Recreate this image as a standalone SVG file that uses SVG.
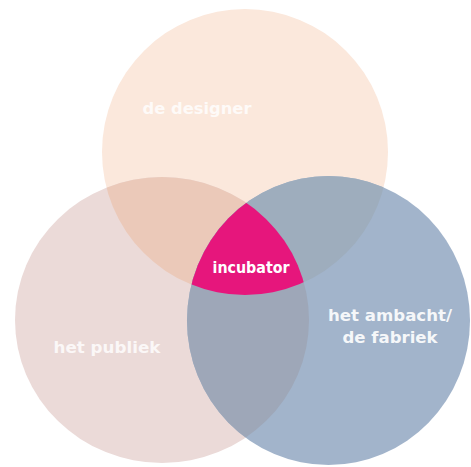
<svg xmlns="http://www.w3.org/2000/svg" width="471" height="467" viewBox="0 0 471 467">
<style>
.lbl{font-family:"DejaVu Sans","Liberation Sans",sans-serif;font-weight:bold;fill:#ffffff;text-anchor:middle}
</style>
<defs>
<clipPath id="clipT"><ellipse cx="245" cy="152" rx="143" ry="143"/></clipPath>
<clipPath id="clipL"><ellipse cx="162" cy="320" rx="147" ry="143"/></clipPath>
</defs>
<rect width="471" height="467" fill="#ffffff"/>
<g id="node-designer">
<ellipse cx="245" cy="152" rx="143" ry="143" fill="#fbe8dc"/>
</g>
<g id="node-publiek">
<ellipse cx="162" cy="320" rx="147" ry="143" fill="#ebdad8"/>
<ellipse cx="162" cy="320" rx="147" ry="143" fill="#ebc9b9" clip-path="url(#clipT)"/>
</g>
<g id="node-ambacht">
<ellipse cx="328.5" cy="320.5" rx="141.5" ry="144.5" fill="#a2b4cb"/>
<ellipse cx="328.5" cy="320.5" rx="141.5" ry="144.5" fill="#9eadbd" clip-path="url(#clipT)"/>
<ellipse cx="328.5" cy="320.5" rx="141.5" ry="144.5" fill="#9ea7b8" clip-path="url(#clipL)"/>
</g>
<g id="node-incubator">
<g clip-path="url(#clipT)">
<ellipse cx="328.5" cy="320.5" rx="141.5" ry="144.5" fill="#e6167c" clip-path="url(#clipL)"/>
</g>
</g>
<g id="labels">
<text class="lbl" x="197" y="114" font-size="16" textLength="109" lengthAdjust="spacingAndGlyphs" opacity="0.8">de designer</text>
<text class="lbl" x="251" y="273" font-size="16" textLength="77" lengthAdjust="spacingAndGlyphs" fill="#fbe3ef">incubator</text>
<text class="lbl" x="390" y="321" font-size="16" textLength="124" lengthAdjust="spacingAndGlyphs" opacity="0.9">het ambacht/</text>
<text class="lbl" x="390" y="343" font-size="16" textLength="95" lengthAdjust="spacingAndGlyphs" opacity="0.9">de fabriek</text>
<text class="lbl" x="107" y="353" font-size="16" textLength="107" lengthAdjust="spacingAndGlyphs" opacity="0.8">het publiek</text>
</g>
</svg>
